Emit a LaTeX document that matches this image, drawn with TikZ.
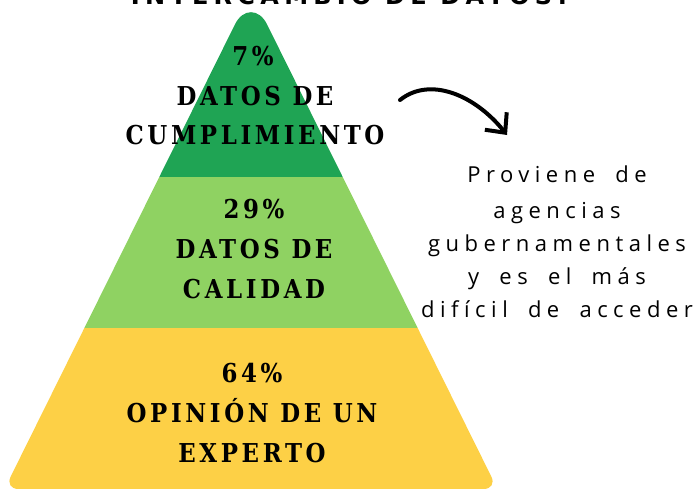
\documentclass[tikz,border=0pt]{standalone}
\usepackage{fontspec}
\usetikzlibrary{%
  arrows.meta,% wg. Straight Barb
  calc%
}
\newfontfamily\levelfont[FakeStretch=0.88,LetterSpace=14]{DejaVu Serif}
\newfontfamily\notefont[LetterSpace=25,WordSpace=1.8]{Open Sans}
\newfontfamily\headfont[LetterSpace=22]{DejaVu Sans}
\definecolor{topgreen}{RGB}{31,164,84}
\definecolor{midgreen}{RGB}{143,210,98}
\definecolor{lowyellow}{RGB}{253,208,70}

\begin{document}
\begin{tikzpicture}[
  x=1pt, y=-1pt,
  line width=4pt,
  >={Straight Barb[length=15pt,width=28pt]},
  level/.style={anchor=base, inner sep=0pt,
    font=\levelfont\bfseries\fontsize{26}{30}\selectfont},
  note/.style={anchor=base, inner sep=0pt,
    font=\notefont\fontsize{22}{26}\selectfont},
]

\useasboundingbox (0,0) rectangle (694,488);

\node[anchor=base, inner sep=0pt, font=\headfont\bfseries\fontsize{24}{28}\selectfont]
  (title) at (349,4) {INTERCAMBIO DE DATOS:};

\begin{scope}
\clip (18.5,489) -- (483.5,489) .. controls (491.2,489) and (494.7,483.4) .. (491.3,476.5)
  -- (267,24.3) .. controls (259,8.15) and (243,8.15) .. (235,24.3)
  -- (10.7,476.5) .. controls (7.3,483.4) and (10.8,489) .. cycle;
\fill[topgreen] (0,-10) rectangle (694,176.5);
\fill[midgreen] (0,176.5) rectangle (694,327.5);
\fill[lowyellow] (0,327.5) rectangle (694,500);
\end{scope}

\node[level] (pcttop) at (253,65) {7\%};
\node[level] (toplinea) at (255,105) {DATOS DE};
\node[level] (toplineb) at (255,144) {CUMPLIMIENTO};

\node[level] (pctmid) at (254,218) {29\%};
\node[level] (midlinea) at (254,258) {DATOS DE};
\node[level] (midlineb) at (254,298) {CALIDAD};

\node[level] (pctlow) at (252,382) {64\%};
\node[level] (lowlinea) at (252,422) {OPINIÓN DE UN};
\node[level] (lowlineb) at (252,462) {EXPERTO};

\node[note] (notea) at (557,182) {Proviene de};
\node[note] (noteb) at (557,218) {agencias};
\node[note] (notec) at (557,251) {gubernamentales};
\node[note] (noted) at (557,284) {y es el más};
\node[note] (notee) at (557,317) {difícil de acceder};

\coordinate (arrowfrom) at (400,100);
\coordinate (arrowto) at (507,135);
\draw[->, line cap=round] (arrowfrom) .. controls (430,76) and (475,95) .. (arrowto);

\end{tikzpicture}
\end{document}
